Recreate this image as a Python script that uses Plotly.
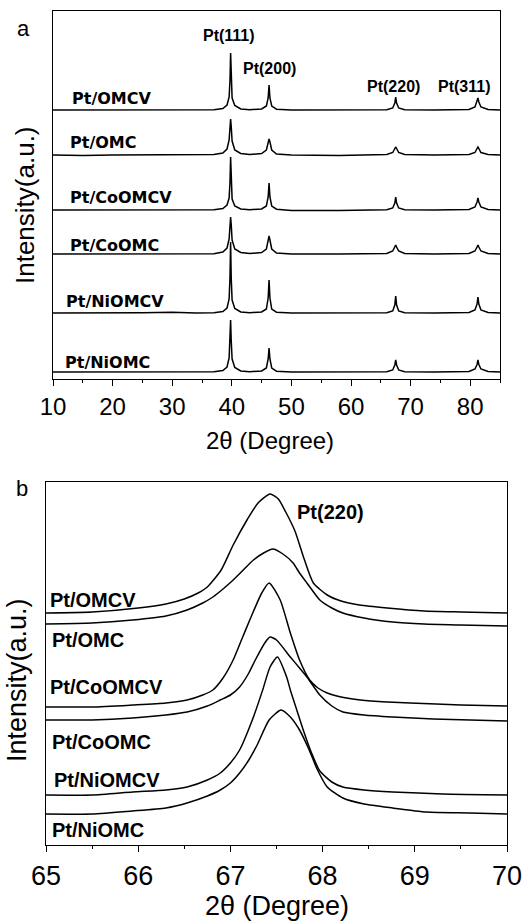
import plotly.graph_objects as go

W, H = 523, 922

# ---------------- Panel (a): wide-angle XRD patterns ----------------
A_TWO_THETA = [10, 15, 20, 25, 30, 34, 37,
               38.5, 39.2, 39.55, 39.7, 39.8, 39.9, 40.05, 40.5, 41.5,
               43,
               45.0, 45.8, 46.1, 46.25, 46.4, 46.7, 47.5,
               50, 58,
               66.0, 67.0, 67.35, 67.5, 67.65, 68.0, 69.0,
               74,
               79.8, 80.8, 81.15, 81.3, 81.45, 81.8, 83.0,
               85]

A_NAMES = ["Pt/OMCV", "Pt/OMC", "Pt/CoOMCV", "Pt/CoOMC", "Pt/NiOMCV", "Pt/NiOMC"]

A_PT_OMCV = [0, 0, 0, 0.3, 0, 0, 0.3,
             1.5, 5, 13, 30, 57, 30, 12, 4.5, 1,
             0.3,
             1, 4, 12, 25, 12, 4, 0.8,
             0, 0,
             0.3, 2, 7, 13, 7, 2, 0.3,
             0,
             0.5, 3, 8, 12, 8, 3, 0.5,
             0]
A_PT_OMC = [0, -0.5, 0, 0, 0.3, 0, 0.5,
            2, 6, 15, 29, 36, 29, 14, 5, 1.5,
            0.5,
            1.5, 5, 13, 16, 13, 5, 1,
            0, -0.5,
            0.5, 2.5, 6.5, 8, 6.5, 2.5, 0.5,
            0,
            0.5, 2.5, 6.5, 8, 6.5, 2.5, 0.5,
            0]
A_PT_COOMCV = [0, 0, 0, 0, 0, 0, 0.3,
               1.5, 5, 12, 28, 53, 28, 11, 4, 1,
               0.3,
               1, 4, 13, 27, 13, 4, 0.8,
               -0.5, -0.5,
               0.3, 2, 7, 13, 7, 2, 0.3,
               0,
               0.5, 3, 8, 12, 8, 3, 0.5,
               0]
A_PT_COOMC = [0, 0, 0, 0, 0, 0, 0.3,
              2, 6, 15, 30, 37, 30, 14, 5, 1.5,
              0.5,
              1.5, 5, 14, 18, 14, 5, 1,
              0, 0,
              0.5, 3, 7, 9, 7, 3, 0.5,
              0,
              0.5, 3, 7, 9, 7, 3, 0.5,
              0]
A_PT_NIOMCV = [0, 0, 0, 0.3, 0.8, 0, 0.3,
               1.5, 5, 14, 36, 71, 36, 13, 4.5, 1,
               0.3,
               1, 4, 15, 33, 15, 4, 0.8,
               0, 0,
               0.3, 2, 8, 17, 8, 2, 0.3,
               0,
               0.5, 3, 9, 16, 9, 3, 0.5,
               0]
A_PT_NIOMC = [0, 0, 0, 0, 0, 0, 0.3,
              1.5, 5, 14, 32, 52, 32, 13, 4.5, 1,
              0.3,
              1, 4, 13, 24, 13, 4, 0.8,
              0, 0,
              0.3, 2, 7, 12, 7, 2, 0.3,
              0,
              0.5, 3, 7.5, 12, 7.5, 3, 0.5,
              0]
A_VALUES = [A_PT_OMCV, A_PT_OMC, A_PT_COOMCV, A_PT_COOMC, A_PT_NIOMCV, A_PT_NIOMC]
A_OFFSETS = [269, 224, 169, 125, 66, 7]   # vertical stacking of the patterns

A_PEAKS = ["Pt(111)", "Pt(200)", "Pt(220)", "Pt(311)"]

# ---------------- Panel (b): Pt(220) reflection ----------------
B_NAMES = A_NAMES

B_OMCV_X = [65.0, 65.5, 66.0, 66.3, 66.5, 66.65, 66.75, 66.9, 67.03, 67.18, 67.3, 67.43,
            67.52, 67.6, 67.7, 67.8, 67.9, 68.05, 68.2, 68.4, 68.7, 69.1, 69.5, 70.0]
B_OMCV_Y = [232, 233, 237, 241, 246, 252, 258, 275, 300, 325, 342, 351,
            346, 333, 314, 286, 262, 250, 244, 240, 237, 234, 233, 232]

B_OMC_X = [65.0, 65.5, 65.94, 66.3, 66.53, 66.7, 66.81, 66.92, 67.03, 67.15, 67.25, 67.36,
           67.46, 67.57, 67.68, 67.75, 67.83, 67.97, 68.1, 68.22, 68.45, 68.76, 69.1, 69.49, 70.0]
B_OMC_Y = [221, 222, 225, 229, 235, 242, 248, 256, 265, 276, 285, 292,
           296, 291, 282, 272, 262, 245, 237, 232, 227, 223, 221, 220, 219]

B_COOMCV_X = [65.0, 65.5, 65.94, 66.3, 66.53, 66.7, 66.81, 66.92, 67.03, 67.12, 67.21, 67.34,
              67.42, 67.54, 67.65, 67.75, 67.86, 67.95, 68.05, 68.2, 68.41, 68.7, 68.95, 69.5, 70.0]
B_COOMCV_Y = [138, 138, 140, 142, 145, 150, 155, 167, 185, 205, 225, 252,
              262, 245, 212, 185, 165, 157, 152, 148, 145, 143, 142, 140, 139]

B_COOMC_X = [65.0, 65.5, 65.94, 66.3, 66.53, 66.75, 66.89, 67.0, 67.1, 67.2, 67.27, 67.38,
             67.43, 67.5, 67.65, 67.75, 67.83, 67.97, 68.1, 68.22, 68.45, 68.76, 69.2, 69.6, 70.0]
B_COOMC_Y = [125, 125, 127, 130, 133, 139, 145, 150, 158, 172, 185, 203,
             208, 205, 188, 177, 168, 150, 139, 133, 130, 128, 126, 125, 124]

B_NIOMCV_X = [65.0, 65.5, 65.94, 66.3, 66.53, 66.75, 66.89, 67.0, 67.1, 67.25, 67.35, 67.43,
              67.51, 67.61, 67.65, 67.72, 67.79, 67.88, 67.97, 68.1, 68.22, 68.45, 68.76, 69.3, 70.0]
B_NIOMCV_Y = [50, 50, 53, 55, 58, 65, 72, 82, 95, 128, 155, 178,
              188, 168, 155, 135, 115, 92, 74, 63, 58, 55, 53, 51, 50]

B_NIOMC_X = [65.0, 65.5, 65.94, 66.3, 66.53, 66.75, 66.89, 67.0, 67.1, 67.2, 67.29, 67.42,
             67.55, 67.65, 67.75, 67.85, 67.94, 68.05, 68.22, 68.45, 68.76, 69.13, 69.6, 70.0]
B_NIOMC_Y = [31, 31, 34, 37, 42, 49, 55, 62, 72, 85, 100, 125,
             135, 128, 115, 96, 76, 58, 47, 41, 37, 33, 32, 31]

B_X = [B_OMCV_X, B_OMC_X, B_COOMCV_X, B_COOMC_X, B_NIOMCV_X, B_NIOMC_X]
B_Y = [B_OMCV_Y, B_OMC_Y, B_COOMCV_Y, B_COOMC_Y, B_NIOMCV_Y, B_NIOMC_Y]

FONT = "Liberation Sans, Arial, sans-serif"
LABEL_FONT = "DejaVu Sans, sans-serif"

fig = go.Figure()

for vals, off in zip(A_VALUES, A_OFFSETS):
    fig.add_trace(go.Scatter(
        x=A_TWO_THETA, y=[v + off for v in vals], mode="lines",
        line=dict(color="black", width=1.5),
        xaxis="x", yaxis="y", showlegend=False, hoverinfo="skip"))

for xs, ys in zip(B_X, B_Y):
    fig.add_trace(go.Scatter(
        x=xs, y=ys, mode="lines",
        line=dict(color="black", width=1.5, shape="spline", smoothing=0.6),
        xaxis="x2", yaxis="y2", showlegend=False, hoverinfo="skip"))


def px_x(p):
    return p / W


def px_y(p):
    return 1 - p / H


common_x = dict(showline=True, mirror=True, linecolor="black", linewidth=1.3,
                ticks="outside", ticklen=6, tickwidth=1.3, tickcolor="black",
                showgrid=False, zeroline=False, automargin=False,
                tickfont=dict(family=FONT, color="black"))
common_y = dict(showline=True, mirror=True, linecolor="black", linewidth=1.3,
                ticks="", showticklabels=False, showgrid=False, zeroline=False,
                automargin=False)

fig.update_layout(
    width=W, height=H, margin=dict(l=0, r=0, t=0, b=0, autoexpand=False),
    paper_bgcolor="white", plot_bgcolor="white",
    xaxis=dict(common_x, domain=[px_x(53), px_x(500)], range=[10, 85], anchor="y",
               tick0=10, dtick=10,
               minor=dict(ticks="outside", ticklen=3, dtick=5, tick0=10, tickcolor="black"),
               tickfont=dict(family=FONT, size=24, color="black")),
    yaxis=dict(common_y, domain=[px_y(379), px_y(11)], range=[0, 368], anchor="x"),
    xaxis2=dict(common_x, domain=[px_x(46), px_x(507)], range=[65, 70], anchor="y2",
                tick0=65, dtick=1,
                minor=dict(ticks="outside", ticklen=3, dtick=0.5, tick0=65, tickcolor="black"),
                tickfont=dict(family=FONT, size=27, color="black")),
    yaxis2=dict(common_y, domain=[px_y(845), px_y(482)], range=[0, 363], anchor="x2"),
)


def paper_text(text, cx, cy, size, angle=0):
    return dict(text=text, x=px_x(cx), y=px_y(cy), xref="paper", yref="paper",
                xanchor="center", yanchor="middle", textangle=angle, showarrow=False,
                font=dict(family=FONT, size=size, color="black"))


ann = []
# panel letters
ann.append(paper_text("a", 23, 28, 22))
ann.append(paper_text("b", 22, 488, 22))
# axis titles
ann.append(paper_text("2θ (Degree)", 270, 441, 24))
ann.append(paper_text("2θ (Degree)", 277, 906, 27))
ann.append(paper_text("Intensity(a.u.)", 25, 205, 26, -90))
ann.append(paper_text("Intensity(a.u.)", 17, 680, 27, -90))

# series labels, panel a
A_LABEL_POS = [(12.9, 281), (12.5, 237), (12.5, 182), (12.5, 134), (11.9, 78), (11.7, 17)]
for name, (lx, ly) in zip(A_NAMES, A_LABEL_POS):
    ann.append(dict(text="<b>%s</b>" % name, x=lx, y=ly, xref="x", yref="y",
                    xanchor="left", yanchor="middle", showarrow=False,
                    font=dict(family=LABEL_FONT, size=16, color="black")))
# peak labels, panel a
A_PEAK_POS = [(39.6, 344), (46.3, 311), (67.2, 293), (79.0, 293)]
for name, (lx, ly) in zip(A_PEAKS, A_PEAK_POS):
    ann.append(dict(text="<b>%s</b>" % name, x=lx, y=ly, xref="x", yref="y",
                    xanchor="center", yanchor="middle", showarrow=False,
                    font=dict(family=FONT, size=16, color="black")))

# series labels, panel b
B_LABEL_POS = [(65.02, 245), (65.04, 205), (65.02, 158), (65.04, 103), (65.06, 65), (65.04, 15)]
for name, (lx, ly) in zip(B_NAMES, B_LABEL_POS):
    ann.append(dict(text="<b>%s</b>" % name, x=lx, y=ly, xref="x2", yref="y2",
                    xanchor="left", yanchor="middle", showarrow=False,
                    font=dict(family=FONT, size=20, color="black")))
ann.append(dict(text="<b>Pt(220)</b>", x=67.7, y=333, xref="x2", yref="y2",
                xanchor="left", yanchor="middle", showarrow=False,
                font=dict(family=FONT, size=20, color="black")))

fig.update_layout(annotations=ann)
fig.write_html("out.html")
